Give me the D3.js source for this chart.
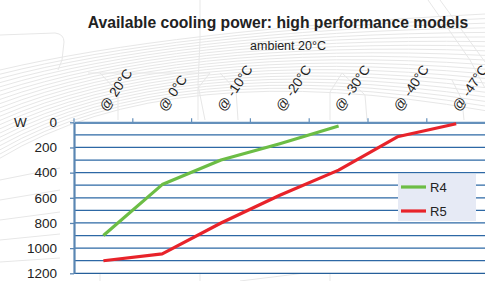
<!DOCTYPE html>
<html><head><meta charset="utf-8">
<script src="https://cdn.jsdelivr.net/npm/d3@7"></script>
<style>
html,body{margin:0;padding:0;background:#fff;}
svg{display:block;font-family:"Liberation Sans",Arial,Helvetica,sans-serif;}
</style></head>
<body>
<script>
const categories = ["@ 20°C","@ 0°C","@ -10°C","@ -20°C","@ -30°C","@ -40°C","@ -47°C"];
const seriesNames = ["R4","R5"];
const r4Values = [900, 495, 300, 170, 30, null, null];
const r5Values = [1100, 1045, 800, 580, 380, 115, 12];
const yTickValues = [0,200,400,600,800,1000,1200];
const gridValues = [100,200,300,400,500,600,700,800,900,1000,1100,1200];
const seriesColors = ["#6cbd45","#e8232a"];

const W = 485, H = 281;
const svg = d3.select("body").append("svg").attr("width", W).attr("height", H);

// faint background decoration
const bg = svg.append("g").attr("fill","none").attr("stroke","#e7e7e7").attr("stroke-width",1);
for (let i = 0; i < 22; i++) {
  bg.append("path").attr("d", `M0,${70 + i*4.2} Q170,${30 + i*1.2} 485,${14 + i*4.6}`);
}
bg.append("path").attr("d","M0,35 L55,33 Q64,34 64,42 L62,60 L58,70");
bg.append("path").attr("d","M200,0 L200,40 L198,85 L205,120");
bg.append("path").attr("d","M88,73 L210,73 L198,88 L198,120");
bg.append("path").attr("d","M100,73 L118,92 L118,120");
bg.append("path").attr("d","M220,73 L236,90 L238,120");
bg.append("path").attr("d","M342,73 L330,92 L330,120");
bg.append("path").attr("d","M342,73 L365,95 L367,120");
bg.append("path").attr("d","M428,0 L470,60 L485,88");
bg.append("path").attr("d","M440,0 L485,62");
bg.append("path").attr("d","M452,80 L462,100 L464,120");
bg.append("path").attr("d","M0,180 L60,168 M0,200 L60,190 M0,220 L60,212 M0,240 L60,234 M0,262 L60,258");
bg.append("path").attr("d","M100,281 L100,274 M200,281 L200,273 M240,281 L330,270 M330,281 L330,273");

const x = d3.scaleBand().domain(categories).range([74, 485.6]);
const y = d3.scaleLinear().domain([0, 1200]).range([122.3, 273.3]);

// plot background
svg.append("rect").attr("x", 74).attr("y", y(0)).attr("width", W - 74).attr("height", y(1200) - y(0)).attr("fill", "#fff");

// gridlines
svg.append("g").selectAll("line").data(gridValues).join("line")
  .attr("x1", 74).attr("x2", W)
  .attr("y1", d => y(d)).attr("y2", d => y(d))
  .attr("stroke", d => d === 1200 ? "#255f9a" : "#2d68a5")
  .attr("stroke-width", 1.3);

// top axis
const topAxis = svg.append("g").attr("transform", `translate(0,${y(0)})`)
  .call(d3.axisTop(x).tickSize(0).tickFormat(""));
topAxis.select(".domain").attr("stroke", "#6490bb").attr("stroke-width", 2.2);
svg.append("g").selectAll("line").data(categories).join("line")
  .attr("x1", d => x(d)).attr("x2", d => x(d))
  .attr("y1", y(0)).attr("y2", y(0) - 4)
  .attr("stroke", "#6490bb").attr("stroke-width", 1.2);

// category labels
svg.append("g").selectAll("text").data(categories).join("text")
  .attr("transform", d => `translate(${x(d) + x.bandwidth()/2 + 3},${y(0) - 10}) rotate(-56)`)
  .attr("font-size", 13.5).attr("fill", "#222")
  .text(d => d);

// left axis
const leftAxis = svg.append("g").attr("transform", "translate(74,0)")
  .call(d3.axisLeft(y).tickValues(yTickValues).tickFormat(d3.format("d")).tickSize(4).tickPadding(13).tickSizeOuter(0));
leftAxis.select(".domain").attr("stroke", "#5a86b3").attr("stroke-width", 2.2);
leftAxis.selectAll(".tick line").attr("stroke", "#5a86b3").attr("stroke-width", 1.3);
leftAxis.selectAll(".tick text").attr("font-size", 13.5).attr("fill", "#222")
  .attr("font-family", "Liberation Sans, Arial, sans-serif");

svg.append("text").attr("x", 14).attr("y", y(0)).attr("dy", "0.36em")
  .attr("font-size", 13.5).attr("fill", "#222").text("W");

// lines
const allSeries = [r4Values, r5Values];
const line = d3.line()
  .defined(v => v !== null)
  .x((v, i) => x(categories[i]) + x.bandwidth()/2)
  .y(v => y(v));
svg.append("g").selectAll("path").data(allSeries).join("path")
  .attr("d", d => line(d))
  .attr("fill", "none")
  .attr("stroke", (d, i) => seriesColors[i])
  .attr("stroke-width", 3.2)
  .attr("stroke-linejoin", "round");

// legend
const lg = svg.append("g");
lg.append("rect").attr("x", 398).attr("y", 174).attr("width", 78).attr("height", 47).attr("fill", "#e6eaf5");
seriesNames.forEach((n, i) => {
  const yy = 187 + i * 24;
  lg.append("line").attr("x1", 401).attr("x2", 426).attr("y1", yy).attr("y2", yy)
    .attr("stroke", seriesColors[i]).attr("stroke-width", 3.2);
  lg.append("text").attr("x", 430).attr("y", yy).attr("dy", "0.36em")
    .attr("font-size", 13).attr("fill", "#222").text(n);
});

// titles
svg.append("text").attr("x", 278).attr("y", 28).attr("text-anchor", "middle")
  .attr("font-size", 15.7).attr("font-weight", "bold").attr("fill", "#222")
  .text("Available cooling power: high performance models");
svg.append("text").attr("x", 288).attr("y", 49.5).attr("text-anchor", "middle")
  .attr("font-size", 12.5).attr("fill", "#222")
  .text("ambient 20°C");
</script>
</body></html>
